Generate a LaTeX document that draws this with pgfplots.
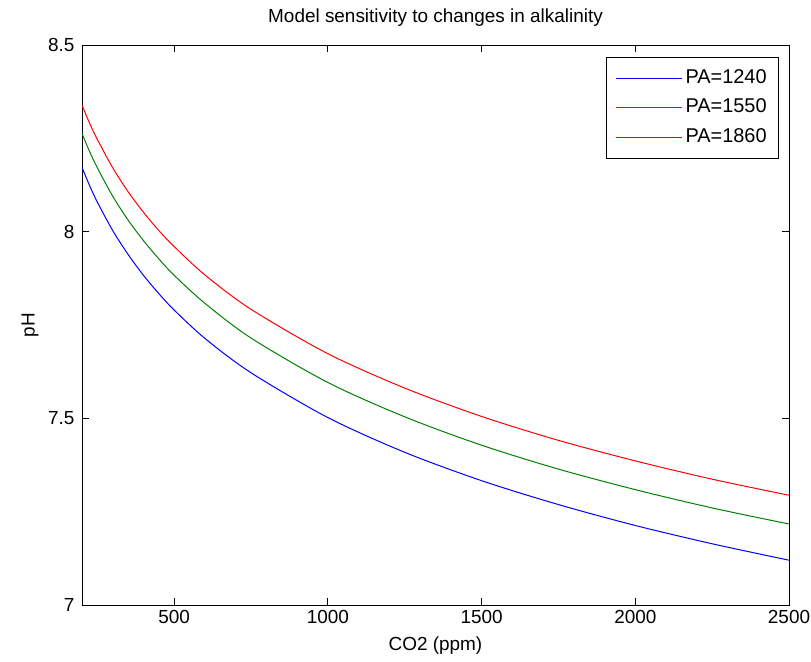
\documentclass[border=0pt]{standalone}
\usepackage{fontspec}
\setmainfont{Liberation Sans}
\usepackage{pgfplots}
\pgfplotsset{compat=1.18}
\usepackage{pgfplotstable}
\definecolor{mblue}{rgb}{0,0,1}
\definecolor{mgreen}{rgb}{0,0.5,0}
\definecolor{mred}{rgb}{1,0,0}

\pgfplotstableread{
co2 pa1240 pa1550 pa1860
200 8.172 8.263 8.339
225 8.123 8.214 8.290
250 8.079 8.171 8.247
300 8.003 8.095 8.171
350 7.939 8.031 8.107
400 7.883 7.976 8.052
450 7.834 7.927 8.003
500 7.790 7.883 7.960
600 7.714 7.808 7.884
750 7.622 7.715 7.792
1000 7.502 7.596 7.673
1250 7.409 7.504 7.581
1500 7.333 7.428 7.505
1750 7.269 7.364 7.441
2000 7.213 7.309 7.386
2250 7.164 7.260 7.337
2500 7.120 7.217 7.294
}\phdata

\begin{document}
\begin{tikzpicture}
\path[use as bounding box] (-82bp,-57bp) rectangle (729bp,605bp);
\begin{axis}[
  scale only axis,
  width=707bp, height=560bp,
  xmin=200, xmax=2500, ymin=7, ymax=8.5,
  xtick={500,1000,1500,2000,2500},
  ytick={7,7.5,8,8.5},
  yticklabels={7,7.5,8,8.5},
  xticklabels={500,1000,1500,2000,2500},
  font=\fontsize{19}{22}\selectfont,
  /pgf/number format/assume math mode=true,
  axis line style={line width=0.9bp},
  major tick style={line width=0.9bp, black},
  major tick length=7bp,
  tick align=inside,
  xticklabel style={yshift=-2bp},
  yticklabel style={xshift=-4bp},
  title={Model sensitivity to changes in alkalinity},
  title style={at={(axis description cs:0.5,1)}, anchor=base, yshift=17bp},
  xlabel={CO2 (ppm)},
  xlabel style={at={(axis description cs:0.5,0)}, anchor=base, yshift=-45bp},
  ylabel={pH},
  ylabel style={at={(axis description cs:-0.0735,0.5)}, anchor=center},
  legend style={at={(axis description cs:0.9859,0.9786)}, anchor=north east,
    draw=black, line width=0.9bp, fill=white,
    font=\fontsize{20}{23}\selectfont,
    inner xsep=9bp, inner ysep=12bp, row sep=11.5bp,
    nodes={inner xsep=3bp, inner ysep=0bp, text height=14bp, text depth=4bp},
    cells={anchor=west}},
  legend image code/.code={\draw[#1, line width=1bp] (0bp,0bp) -- (66bp,0bp);},
]
\addplot[mblue, line width=1bp, smooth] table[x=co2, y=pa1240] {\phdata};
\addlegendentry{PA=1240\hspace{3bp}}
\addplot[mgreen, line width=1bp, smooth] table[x=co2, y=pa1550] {\phdata};
\addlegendentry{PA=1550\hspace{3bp}}
\addplot[mred, line width=1bp, smooth] table[x=co2, y=pa1860] {\phdata};
\addlegendentry{PA=1860\hspace{3bp}}
\end{axis}
\end{tikzpicture}
\end{document}
